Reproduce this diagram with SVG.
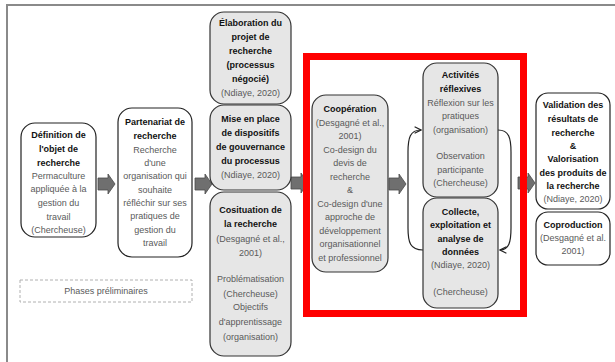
<svg xmlns="http://www.w3.org/2000/svg" width="615" height="362" viewBox="0 0 615 362">
  <style>
    text { font-family: "Liberation Sans", Arial, sans-serif; font-size: 9px; text-anchor: middle; }
    .b { font-weight: bold; fill: #111; }
    .n { fill: #5a5a5a; }
    .white { fill: #ffffff; stroke: #222; stroke-width: 1.2; }
    .grey { fill: #e6e6e6; stroke: #333; stroke-width: 1.2; }
    .blk { fill: #6f6f6f; stroke: #4a4a4a; stroke-width: 0.8; }
    .loop { fill: none; stroke: #222; stroke-width: 1.2; }
  </style>
  <defs>
    <path id="blockArrow" d="M0,-6 H10 V-10 L17,0 L10,10 V6 H0 Z"/>
    <marker id="chev" viewBox="0 0 10 10" refX="9" refY="5" markerWidth="8" markerHeight="8" orient="auto" markerUnits="userSpaceOnUse">
      <path d="M1,1 L9,5 L1,9" fill="none" stroke="#222" stroke-width="1.4"/>
    </marker>
  </defs>

  <rect width="615" height="362" fill="#ffffff"/>
  <!-- outer frame -->
  <path d="M7,362 V5 H615" fill="none" stroke="#8a8a8a" stroke-width="2"/>

  <!-- connectors -->
  <g id="connectors">
    <use href="#blockArrow" class="blk" x="98" y="184"/>
    <use href="#blockArrow" class="blk" x="195" y="184"/>
    <use href="#blockArrow" class="blk" x="291" y="183"/>
    <use href="#blockArrow" class="blk" x="389" y="184"/>
    <use href="#blockArrow" class="blk" x="518" y="183"/>
    <path class="loop" d="M423,250 C410,250 408,242 408,228 L408,152 C408,138 410,130 421,130" marker-end="url(#chev)"/>
    <path class="loop" d="M498,130 C509,130 511,138 511,152 L511,228 C511,242 509,250 500,250" marker-end="url(#chev)"/>
  </g>

  <g id="definition">
    <rect class="white" x="21" y="123" width="75" height="114" rx="14"/>
    <text class="b" x="58.5" y="138">Définition de</text>
    <text class="b" x="58.5" y="152">l'objet de</text>
    <text class="b" x="58.5" y="166">recherche</text>
    <text class="n" x="58.5" y="179">Permaculture</text>
    <text class="n" x="58.5" y="192">appliquée à la</text>
    <text class="n" x="58.5" y="206">gestion du</text>
    <text class="n" x="58.5" y="220">travail</text>
    <text class="n" x="58.5" y="233">(Chercheuse)</text>
  </g>

  <g id="partenariat">
    <rect class="white" x="118" y="108" width="74" height="149" rx="14"/>
    <text class="b" x="155" y="125">Partenariat de</text>
    <text class="b" x="155" y="139">recherche</text>
    <text class="n" x="155" y="153">Recherche</text>
    <text class="n" x="155" y="166">d'une</text>
    <text class="n" x="155" y="179">organisation qui</text>
    <text class="n" x="155" y="193">souhaite</text>
    <text class="n" x="155" y="206">réfléchir sur ses</text>
    <text class="n" x="155" y="219">pratiques de</text>
    <text class="n" x="155" y="233">gestion du</text>
    <text class="n" x="155" y="246">travail</text>
  </g>

  <g id="phases">
    <rect x="20" y="280" width="172" height="22" fill="none" stroke="#b0b0b0" stroke-width="1" stroke-dasharray="3,2"/>
    <text class="n" x="106" y="294">Phases préliminaires</text>
  </g>

  <g id="elaboration">
    <rect class="grey" x="210" y="12" width="81" height="92" rx="14"/>
    <text class="b" x="250.5" y="25.5">Élaboration du</text>
    <text class="b" x="250.5" y="39.5">projet de</text>
    <text class="b" x="250.5" y="53.5">recherche</text>
    <text class="b" x="250.5" y="67.5">(processus</text>
    <text class="b" x="250.5" y="81.5">négocié)</text>
    <text class="n" x="250.5" y="95.5">(Ndiaye, 2020)</text>
  </g>

  <g id="gouvernance">
    <rect class="grey" x="210" y="105" width="81" height="85" rx="14"/>
    <text class="b" x="250.5" y="122">Mise en place</text>
    <text class="b" x="250.5" y="136">de dispositifs</text>
    <text class="b" x="250.5" y="150">de gouvernance</text>
    <text class="b" x="250.5" y="164">du processus</text>
    <text class="n" x="250.5" y="178">(Ndiaye, 2020)</text>
  </g>

  <g id="cosituation">
    <rect class="grey" x="210" y="192" width="81" height="164" rx="14"/>
    <text class="b" x="250.5" y="213">Cosituation de</text>
    <text class="b" x="250.5" y="227">la recherche</text>
    <text class="n" x="250.5" y="242">(Desgagné et al.,</text>
    <text class="n" x="250.5" y="256">2001)</text>
    <text class="n" x="250.5" y="282">Problématisation</text>
    <text class="n" x="250.5" y="297">(Chercheuse)</text>
    <text class="n" x="250.5" y="310">Objectifs</text>
    <text class="n" x="250.5" y="325">d'apprentissage</text>
    <text class="n" x="250.5" y="340">(organisation)</text>
  </g>

  <g id="cooperation">
    <rect class="grey" x="312" y="95" width="76" height="177" rx="14"/>
    <text class="b" x="350" y="112">Coopération</text>
    <text class="n" x="350" y="125.5">(Desgagné et al.,</text>
    <text class="n" x="350" y="139">2001)</text>
    <text class="n" x="350" y="152.5">Co-design du</text>
    <text class="n" x="350" y="166">devis de</text>
    <text class="n" x="350" y="179.5">recherche</text>
    <text class="n" x="350" y="193">&amp;</text>
    <text class="n" x="350" y="206.5">Co-design d'une</text>
    <text class="n" x="350" y="220">approche de</text>
    <text class="n" x="350" y="233.5">développement</text>
    <text class="n" x="350" y="247">organisationnel</text>
    <text class="n" x="350" y="260.5">et professionnel</text>
  </g>

  <g id="activites">
    <rect class="grey" x="423" y="63" width="75" height="134" rx="14"/>
    <text class="b" x="460.5" y="78">Activités</text>
    <text class="b" x="460.5" y="92">réflexives</text>
    <text class="n" x="460.5" y="106">Réflexion sur les</text>
    <text class="n" x="460.5" y="119">pratiques</text>
    <text class="n" x="460.5" y="133">(organisation)</text>
    <text class="n" x="460.5" y="159">Observation</text>
    <text class="n" x="460.5" y="173">participante</text>
    <text class="n" x="460.5" y="186">(Chercheuse)</text>
  </g>

  <g id="collecte">
    <rect class="grey" x="423" y="198" width="75" height="110" rx="14"/>
    <text class="b" x="460.5" y="215">Collecte,</text>
    <text class="b" x="460.5" y="228">exploitation et</text>
    <text class="b" x="460.5" y="242">analyse de</text>
    <text class="b" x="460.5" y="255">données</text>
    <text class="n" x="460.5" y="268">(Ndiaye, 2020)</text>
    <text class="n" x="460.5" y="295">(Chercheuse)</text>
  </g>

  <!-- red highlight around the iterative core -->
  <rect x="306.5" y="56.5" width="217" height="257" fill="none" stroke="#ff0000" stroke-width="7"/>

  <g id="validation">
    <rect class="white" x="536" y="93" width="74" height="116" rx="12"/>
    <text class="b" x="573" y="108">Validation des</text>
    <text class="b" x="573" y="122">résultats de</text>
    <text class="b" x="573" y="136">recherche</text>
    <text class="b" x="573" y="149">&amp;</text>
    <text class="b" x="573" y="162">Valorisation</text>
    <text class="b" x="573" y="176">des produits de</text>
    <text class="b" x="573" y="189">la recherche</text>
    <text class="n" x="573" y="202">(Ndiaye, 2020)</text>
  </g>

  <g id="coproduction">
    <rect class="white" x="536" y="212" width="74" height="53" rx="12"/>
    <text class="b" x="573" y="228">Coproduction</text>
    <text class="n" x="573" y="241">(Desgagné et al.</text>
    <text class="n" x="573" y="254">2001)</text>
  </g>
</svg>
